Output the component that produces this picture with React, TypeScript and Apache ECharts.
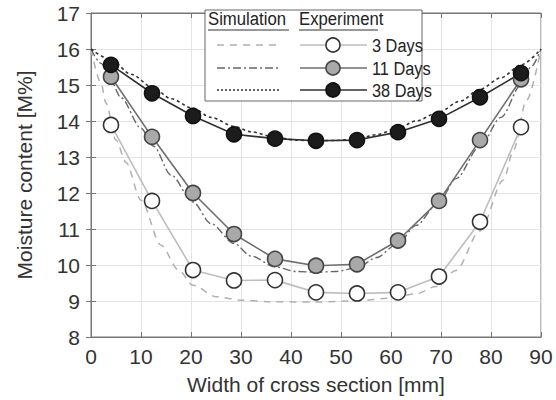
import React, { useEffect, useRef } from "react";
import * as echarts from "echarts";

const xTickLabels = ["0", "10", "20", "30", "40", "50", "60", "70", "80", "90"];
const yTickLabels = ["8", "9", "10", "11", "12", "13", "14", "15", "16", "17"];

const expX = [4, 12.2, 20.4, 28.6, 36.8, 45, 53.2, 61.4, 69.6, 77.8, 86];
const exp3 = [13.89, 11.78, 9.86, 9.57, 9.58, 9.24, 9.21, 9.24, 9.68, 11.2, 13.83];
const exp11 = [15.23, 13.56, 12.0, 10.86, 10.17, 9.98, 10.02, 10.68, 11.78, 13.47, 15.16];
const exp38 = [15.56, 14.77, 14.14, 13.63, 13.51, 13.45, 13.47, 13.69, 14.06, 14.66, 15.33];

const sim3X = [0, 2, 3, 5, 7, 10, 14, 17.5, 20.4, 25, 30, 36, 45, 53, 60, 65, 69, 73, 77.8, 82.5, 84.5, 87.1, 90];
const sim3Y = [16, 15.05, 14.5, 13.47, 12.85, 11.8, 10.55, 9.86, 9.44, 9.12, 9.02, 8.98, 8.97, 9.0, 9.08, 9.2, 9.4, 9.85, 10.95, 12.36, 13.19, 14.58, 16];

const sim11X = [0, 2, 4, 6, 10, 12.5, 16, 20.4, 24, 28.6, 32, 36.8, 41, 45, 49, 53.2, 57, 61.4, 65, 69.6, 73, 77.8, 82, 86, 88, 90];
const sim11Y = [16, 15.6, 15.1, 14.65, 13.8, 13.3, 12.5, 11.75, 11.15, 10.6, 10.25, 9.95, 9.82, 9.8, 9.82, 9.92, 10.2, 10.6, 11.1, 11.75, 12.4, 13.3, 14.1, 15.0, 15.5, 16];

const sim38X = [0, 4, 8, 12.2, 16, 20.4, 24, 28.6, 32, 36.8, 41, 45, 49, 53.2, 57, 61.4, 65, 69.6, 73.8, 77.8, 82, 86, 90];
const sim38Y = [16, 15.7, 15.3, 14.95, 14.62, 14.35, 14.1, 13.85, 13.7, 13.55, 13.47, 13.45, 13.46, 13.5, 13.62, 13.8, 14.0, 14.25, 14.55, 14.88, 15.2, 15.56, 16];

const legendRows = ["3 Days", "11 Days", "38 Days"];

const FONT = "Liberation Sans, Arial, sans-serif";
const C3 = { line: "#bdbdbd", fill: "#ffffff", border: "#333333" };
const C11 = { line: "#6e6e6e", fill: "#a9a9a9", border: "#444444" };
const C38 = { line: "#303030", fill: "#1c1c1c", border: "#111111" };

const zip = (xs: number[], ys: number[]) => xs.map((x, i) => [x, ys[i]]);

export default function App() {
  const ref = useRef<HTMLDivElement>(null);
  useEffect(() => {
    if (!ref.current) return;
    const chart = echarts.init(ref.current, undefined, { renderer: "svg" });

    const axisCommon = {
      axisLine: { show: true, lineStyle: { color: "#777777", width: 1 } },
      axisTick: { show: true, inside: true, length: 5, lineStyle: { color: "#777777" } },
    };

    const simSeries = (name: string, xs: number[], ys: number[], color: string, type: any, width: number) => ({
      name,
      type: "line",
      data: zip(xs, ys),
      smooth: 0.3,
      smoothMonotone: "x",
      showSymbol: false,
      symbol: "none",
      lineStyle: { color, width, type },
      z: 2,
    });
    const expSeries = (name: string, ys: number[], c: any) => ({
      name,
      type: "line",
      data: zip(expX, ys),
      symbol: "circle",
      symbolSize: 15,
      lineStyle: { color: c.line, width: 1.6 },
      itemStyle: { color: c.fill, borderColor: c.border, borderWidth: 1.6 },
      z: 3,
    });

    const rowY = [45, 68, 90];
    const simStyles = [
      { color: "#b0b0b0", dash: [7, 6] },
      { color: "#666666", dash: [8, 3, 2, 3] },
      { color: "#333333", dash: [2, 2] },
    ];
    const expStyles = [C3, C11, C38];
    const Z = 100;
    const legendChildren: any[] = [
      { type: "rect", z: Z, shape: { x: 205, y: 10, width: 217, height: 91 }, style: { fill: "#ffffff", stroke: "#666666", lineWidth: 1 } },
      { type: "text", z: Z + 1, x: 208, y: 19, scaleX: 0.88, style: { text: "Simulation", font: `19px ${FONT}`, fill: "#222222", verticalAlign: "middle" } },
      { type: "line", z: Z + 1, shape: { x1: 208, y1: 30, x2: 289, y2: 30 }, style: { stroke: "#333333", lineWidth: 1 } },
      { type: "text", z: Z + 1, x: 299, y: 19, scaleX: 0.88, style: { text: "Experiment", font: `19px ${FONT}`, fill: "#222222", verticalAlign: "middle" } },
      { type: "line", z: Z + 1, shape: { x1: 299, y1: 30, x2: 378, y2: 30 }, style: { stroke: "#333333", lineWidth: 1 } },
    ];
    legendRows.forEach((label, i) => {
      const y = rowY[i];
      legendChildren.push(
        { type: "line", z: Z + 1, shape: { x1: 217, y1: y, x2: 280, y2: y }, style: { stroke: simStyles[i].color, lineWidth: 1.3, lineDash: simStyles[i].dash } },
        { type: "line", z: Z + 1, shape: { x1: 300, y1: y, x2: 367, y2: y }, style: { stroke: expStyles[i].line, lineWidth: 1.6 } },
        { type: "circle", z: Z + 2, shape: { cx: 333, cy: y, r: 7 }, style: { fill: expStyles[i].fill, stroke: expStyles[i].border, lineWidth: 1.6 } },
        { type: "text", z: Z + 1, x: 372, y: y + 1, scaleX: 0.86, style: { text: label, font: `19px ${FONT}`, fill: "#222222", verticalAlign: "middle" } }
      );
    });

    chart.setOption({
      animation: false,
      backgroundColor: "#ffffff",
      textStyle: { fontFamily: FONT },
      grid: { left: 91, right: 15, top: 13, bottom: 63, show: true, borderColor: "#777777", borderWidth: 1, backgroundColor: "transparent" },
      xAxis: [
        {
          type: "value", min: 0, max: 90, interval: 10,
          ...axisCommon,
          splitLine: { show: true, lineStyle: { color: "#e4e4e4", width: 1 } },
          axisLabel: { color: "#333333", fontSize: 21, margin: 9, formatter: (v: number) => xTickLabels[Math.round(v / 10)] ?? "" },
          name: "Width of cross section [mm]", nameLocation: "middle", nameGap: 37,
          nameTextStyle: { color: "#333333", fontSize: 21 },
        },
        {
          type: "value", min: 0, max: 90, interval: 10, position: "top",
          ...axisCommon, axisLabel: { show: false }, splitLine: { show: false },
        },
      ],
      yAxis: [
        {
          type: "value", min: 8, max: 17, interval: 1,
          ...axisCommon,
          splitLine: { show: true, lineStyle: { color: "#e4e4e4", width: 1 } },
          axisLabel: { color: "#333333", fontSize: 21, margin: 11, formatter: (v: number) => yTickLabels[Math.round(v - 8)] ?? "" },
          name: "Moisture content [M%]", nameLocation: "middle", nameGap: 56,
          nameTextStyle: { color: "#333333", fontSize: 21 },
        },
        {
          type: "value", min: 8, max: 17, interval: 1, position: "right",
          ...axisCommon, axisLabel: { show: false }, splitLine: { show: false },
        },
      ],
      series: [
        simSeries("Sim 3 Days", sim3X, sim3Y, "#b0b0b0", [7, 6], 1.5),
        simSeries("Sim 11 Days", sim11X, sim11Y, "#666666", [8, 3, 2, 3], 1.4),
        simSeries("Sim 38 Days", sim38X, sim38Y, "#333333", [3, 3], 1.6),
        expSeries("3 Days", exp3, C3),
        expSeries("11 Days", exp11, C11),
        expSeries("38 Days", exp38, C38),
      ],
      graphic: [{ type: "group", z: Z, children: legendChildren }],
    });
    return () => chart.dispose();
  }, []);
  return <div ref={ref} style={{ position: "fixed", left: 0, top: 0, width: 556, height: 400 }} />;
}
